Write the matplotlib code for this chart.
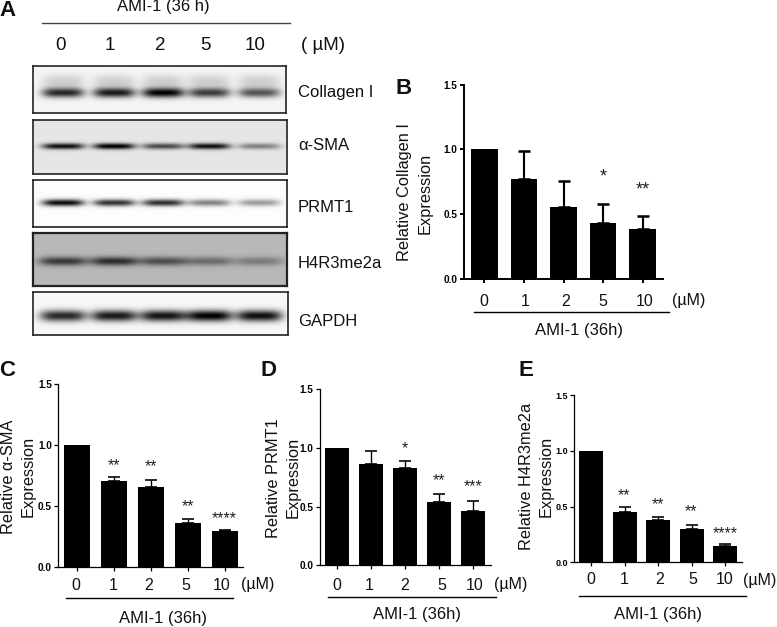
import numpy as np
import matplotlib
matplotlib.use("Agg")
import matplotlib.pyplot as plt

plt.rcParams['font.family'] = ['Liberation Sans', 'DejaVu Sans']
W, H = 777, 627

doses = ['0', '1', '2', '5', '10']
unit = '(µM)'
treatment = 'AMI-1 (36h)'

collagen_vals = [1.0, 0.77, 0.555, 0.435, 0.385]
collagen_tops = [1.0, 0.99, 0.76, 0.58, 0.485]
collagen_star = ['', '', '', '*', '**']
collagen_stary = [0, 0, 0, 0.79, 0.69]

sma_vals = [1.0, 0.705, 0.655, 0.36, 0.295]
sma_tops = [1.0, 0.74, 0.715, 0.40, 0.305]
sma_star = ['', '**', '**', '**', '****']
sma_stary = [0, 0.835, 0.825, 0.50, 0.40]

prmt_vals = [1.0, 0.86, 0.83, 0.535, 0.46]
prmt_tops = [1.0, 0.975, 0.89, 0.61, 0.55]
prmt_star = ['', '', '*', '**', '***']
prmt_stary = [0, 0, 0.995, 0.72, 0.665]

h4_vals = [1.0, 0.45, 0.375, 0.30, 0.15]
h4_tops = [1.0, 0.50, 0.41, 0.33, 0.16]
h4_star = ['', '**', '**', '**', '****']
h4_stary = [0, 0.60, 0.52, 0.455, 0.255]

blot_names = ['Collagen I', 'α-SMA', 'PRMT1', 'H4R3me2a', 'GAPDH']
blot_collagen = [0.80, 0.85, 0.95, 0.72, 0.62]
blot_sma = [0.85, 0.92, 0.62, 0.85, 0.40]
blot_prmt = [0.95, 0.80, 0.82, 0.48, 0.38]
blot_h4 = [0.50, 0.55, 0.42, 0.30, 0.24]
blot_gapdh = [0.82, 0.88, 0.90, 0.98, 0.92]

fig = plt.figure(figsize=(W / 100, H / 100), dpi=100)


def rect_axes(x0, y0, x1, y1, **kw):
    return fig.add_axes([x0 / W, 1 - y1 / H, (x1 - x0) / W, (y1 - y0) / H], **kw)


lane_x = [63, 114, 163, 209, 259]


def blot(box, strengths, band_y, half_w, sig, bg, smear=0.0, frame=1.2):
    x0, y0, x1, y1 = box
    ax = rect_axes(x0, y0, x1, y1)
    xx, yy = np.meshgrid(np.arange(x0, x1, 0.5), np.arange(y0, y1, 0.5))
    img = np.zeros_like(xx)
    for cx, s in zip(lane_x, strengths):
        prof = np.exp(-np.abs((xx - cx) / half_w) ** 4)
        img += s * prof * np.exp(-((yy - band_y) / sig) ** 2)
        if smear:
            img += smear * prof * np.exp(-((yy - (band_y - 11)) / 7.0) ** 2)
    ax.imshow(np.clip(bg - img, 0, 1), cmap='gray', vmin=0, vmax=1, aspect='auto',
              interpolation='bilinear', extent=(x0, x1, y1, y0))
    ax.set_xticks([])
    ax.set_yticks([])
    for s in ax.spines.values():
        s.set_linewidth(frame)
        s.set_color('#222222')


blot((33, 66, 286, 113), blot_collagen, 92.5, 21, 4.8, 0.96, smear=0.15)
blot((33, 120, 287, 174), blot_sma, 146, 21, 3.0, 0.90)
blot((33, 180, 287, 227), blot_prmt, 202.5, 21, 3.4, 0.99)
blot((33, 233, 287, 286), blot_h4, 261, 24, 4.4, 0.72, frame=1.6)
blot((33, 292, 288, 335), blot_gapdh, 316, 23, 5.5, 0.97)


def bar_panel(axis_x, top, bottom, end, c0, c4, width_px, vals, tops, stars, stary, lw, star_fs, tick_fs=7.2):
    ax = rect_axes(axis_x, top, end, bottom)
    step = (c4 - c0) / 4
    ax.set_xlim((axis_x - c0) / step, (end - c0) / step)
    ax.set_ylim(0, 1.5)
    pos = np.arange(len(vals))
    ax.bar(pos, vals, width=width_px / step, color='black')
    up = np.array(tops) - np.array(vals)
    ax.errorbar(pos[1:], vals[1:], yerr=[np.zeros(4), up[1:]], fmt='none', ecolor='black',
                elinewidth=lw * 1.1, capsize=4.3, capthick=lw * 1.3)
    for i, (s, y) in enumerate(zip(stars, stary)):
        if s:
            ax.text(i, y, s, ha='center', va='center', fontsize=star_fs, color='#222222')
    for side in ('top', 'right'):
        ax.spines[side].set_visible(False)
    for side in ('left', 'bottom'):
        ax.spines[side].set_linewidth(lw)
    ax.patch.set_alpha(0)
    ax.set_xticks(pos)
    ax.set_xticklabels([])
    ax.set_yticks([0, 0.5, 1.0, 1.5])
    ax.set_yticklabels(['0.0', '0.5', '1.0', '1.5'], fontweight='bold', fontsize=tick_fs)
    ax.tick_params(axis='both', width=lw, length=3.2, pad=1.5)
    return ax


bar_panel(464, 84.7, 279, 663, 484.3, 642.7, 26.5, collagen_vals, collagen_tops,
          collagen_star, collagen_stary, 1.4, 13)
bar_panel(58.3, 384.3, 567.3, 243, 76.7, 224.7, 26.3, sma_vals, sma_tops,
          sma_star, sma_stary, 0.9, 11.5)
bar_panel(320, 389, 565.3, 491, 336.7, 473.3, 24.3, prmt_vals, prmt_tops,
          prmt_star, prmt_stary, 0.9, 11.5)
bar_panel(574.3, 395, 562.3, 741.7, 591, 725, 24, h4_vals, h4_tops,
          h4_star, h4_stary, 0.9, 11.5, tick_fs=6.5)

ov = fig.add_axes([0, 0, 1, 1])
ov.set_xlim(0, W)
ov.set_ylim(H, 0)
ov.axis('off')
ov.patch.set_alpha(0)


def t(x, y, s, fs=11.5, **kw):
    kw.setdefault('ha', 'center')
    kw.setdefault('va', 'center')
    ov.text(x, y, s, fontsize=fs, color='#111111', **kw)


# panel letters
for letter, x, y in [('A', 8, 10), ('B', 404, 88), ('C', 7, 370), ('D', 268, 370), ('E', 526, 370)]:
    t(x, y, letter, fs=16, fontweight='bold')

# blot header
t(163, 7, 'AMI-1 (36 h)', fs=12)
ov.plot([41.7, 290], [23.3, 23.3], color='#444444', lw=1.0)
for x, d in zip([60, 110, 160, 205, 255], doses):
    t(x, 45, d, fs=13.5)
t(323, 45, '( µM)', fs=13.5)
for y, name in zip([92.7, 146, 207, 263, 321], blot_names):
    t(298, y, name, fs=12, ha='left')

# tick labels, underlines, treatment labels and y titles for each bar panel
panels = [
    ([484.3, 525, 566, 603, 645], 301, 689, 474, 668.7, 311.7, 579, 331,
     [(404.5, 192.5, 'Relative Collagen I'), (425, 193, 'Expression')]),
    ([76, 113, 149, 185.7, 221.7], 585, 258, 66, 233, 598, 163, 618,
     [(8.5, 476.7, 'Relative α-SMA'), (28.5, 476, 'Expression')]),
    ([337, 369, 405, 442, 475], 585, 510.7, 328, 495.7, 597, 416.7, 615,
     [(273, 478, 'Relative PRMT1'), (293, 477, 'Expression')]),
    ([591, 624, 660, 693, 725], 580, 760, 579, 745.7, 595.7, 658, 615,
     [(526.5, 476.7, 'Relative H4R3me2a'), (546, 476.7, 'Expression')]),
]
for xs, ty, ux, lx0, lx1, ly, ax_, ay, titles in panels:
    for x, d in zip(xs, doses):
        t(x, ty, d, fs=11.5)
    t(ux, ty, unit, fs=11.5)
    ov.plot([lx0, lx1], [ly, ly], color='black', lw=1.0)
    t(ax_, ay, treatment, fs=12)
    for x, y, s in titles:
        t(x, y, s, fs=11.8, rotation=90)

fig.savefig('out.png', dpi=100)
